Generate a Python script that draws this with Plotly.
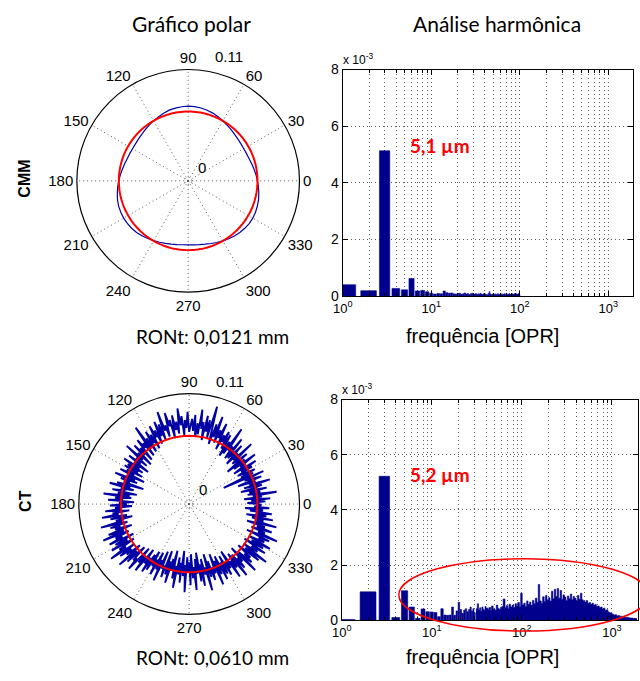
import plotly.graph_objects as go

# ---------------- data ----------------
R_MAX = 0.11  # mm, outer ring of the polar plots

CMM_PROFILE_MM = [
    0.0685, 0.0673, 0.0661, 0.0650, 0.0641, 0.0636, 0.0634, 0.0637, 0.0642, 0.0649, 0.0660, 0.0671,
    0.0686, 0.0699, 0.0712, 0.0722, 0.0731, 0.0736, 0.0738, 0.0735, 0.0729, 0.0723, 0.0710, 0.0697,
    0.0684, 0.0672, 0.0660, 0.0649, 0.0642, 0.0636, 0.0635, 0.0637, 0.0641, 0.0650, 0.0660, 0.0673,
    0.0686, 0.0699, 0.0711, 0.0723, 0.0731, 0.0735, 0.0736, 0.0734, 0.0729, 0.0721, 0.0709, 0.0696,
    0.0683, 0.0670, 0.0658, 0.0648, 0.0640, 0.0634, 0.0632, 0.0635, 0.0640, 0.0648, 0.0659, 0.0672,
    0.0685, 0.0698, 0.0711, 0.0722, 0.0730, 0.0736, 0.0737, 0.0734, 0.0728, 0.0720, 0.0709, 0.0697,
]
CMM_FIT_R_MM = 0.0685

CT_PROFILE_UM = [
    70, 58, 76, 62, 81, 55, 73, 64, 88, 59, 72, 61, 79, 53, 68, 75, 57, 84, 63, 70, 52, 77, 66, 60, 81, 38, 71, 58, 74, 62,
    56, 73, 61, 79, 54, 69, 63, 82, 57, 71, 50, 76, 65, 59, 86, 62, 70, 55, 78, 64, 60, 83, 58, 72, 66, 91, 61, 74, 57, 80,
    64, 82, 70, 77, 61, 88, 72, 80, 66, 93, 71, 84, 63, 78, 101, 68, 86, 74, 90, 65, 83, 76, 95, 70, 81, 67, 89, 73, 85, 78,
    72, 92, 76, 84, 69, 88, 79, 96, 71, 83, 75, 90, 67, 86, 80, 94, 70, 82, 77, 97, 68, 85, 73, 89, 66, 81, 74, 87, 63, 79,
    70, 84, 62, 78, 67, 93, 60, 76, 71, 82, 58, 74, 66, 80, 55, 72, 64, 85, 57, 70, 63, 77, 52, 69, 61, 79, 56, 73, 60, 75,
    54, 71, 62, 77, 50, 68, 59, 80, 56, 73, 63, 69, 48, 75, 61, 82, 57, 70, 65, 78, 53, 72, 60, 86, 58, 74, 66, 81, 55, 70,
    62, 79, 57, 74, 68, 84, 60, 77, 71, 88, 63, 80, 58, 75, 69, 91, 64, 82, 72, 78, 61, 86, 70, 93, 66, 81, 74, 89, 63, 84,
    71, 90, 65, 83, 76, 95, 68, 86, 73, 80, 64, 92, 70, 84, 62, 79, 75, 88, 60, 77, 69, 85, 58, 74, 66, 82, 61, 78, 56, 72,
    64, 80, 55, 73, 62, 84, 52, 70, 66, 78, 50, 74, 60, 82, 57, 69, 48, 76, 63, 85, 54, 71, 59, 79, 47, 72, 61, 88, 53, 68,
    58, 81, 50, 74, 63, 86, 55, 70, 49, 78, 61, 83, 56, 72, 65, 89, 52, 76, 60, 80, 67, 74, 54, 87, 62, 77, 58, 84, 66, 79,
    60, 82, 68, 76, 57, 88, 70, 79, 63, 91, 66, 84, 72, 78, 61, 93, 69, 85, 74, 81, 64, 89, 71, 96, 67, 83, 75, 90, 65, 86,
    72, 92, 68, 84, 77, 88, 63, 95, 74, 81, 66, 87, 71, 79, 60, 90, 69, 76, 64, 85, 58, 78, 67, 83, 61, 74, 56, 80, 65, 72,
]
CT_FIT_R_MM = 0.0680

CMM_HARM_AMP = [
    0.40, 0.19, 5.13, 0.27, 0.22, 0.62, 0.18, 0.20, 0.15, 0.10,
    0.07, 0.09, 0.08, 0.18, 0.12, 0.10, 0.11, 0.08, 0.07, 0.09,
    0.10, 0.06, 0.08, 0.11, 0.07, 0.09, 0.05, 0.08, 0.10, 0.06,
    0.07, 0.09, 0.05, 0.08, 0.06, 0.10, 0.07, 0.05, 0.08, 0.06,
    0.09, 0.07, 0.05, 0.08, 0.12, 0.17, 0.09, 0.06, 0.08, 0.07,
    0.05, 0.08, 0.06, 0.09, 0.05, 0.07, 0.10, 0.06, 0.08, 0.05,
    0.07, 0.06, 0.09, 0.05, 0.08, 0.06, 0.07, 0.10, 0.05, 0.08,
    0.06, 0.09, 0.05, 0.07, 0.08, 0.06, 0.10, 0.05, 0.07, 0.06,
    0.08, 0.05, 0.09, 0.06, 0.07, 0.05, 0.10, 0.06, 0.08, 0.05,
    0.07, 0.09, 0.06, 0.08, 0.05, 0.07, 0.10, 0.06, 0.08, 0.05,
]
CT_HARM_AMP = [
    0.03, 1.03, 5.22, 0.10, 1.07, 0.48, 0.07, 0.41, 0.31, 0.30,
    0.28, 0.13, 0.42, 0.19, 0.18, 0.19, 0.48, 0.18, 0.34, 0.65,
    0.39, 0.25, 0.37, 0.42, 0.31, 0.39, 0.48, 0.34, 0.42, 0.27,
]
CT_DENSE_FREQ = [
    31, 32, 33, 34, 35, 36, 37, 38, 39, 40,
    42, 43, 45, 46, 48, 50, 52, 54, 56, 58,
    60, 62, 65, 67, 70, 72, 75, 78,
    81, 84, 87, 90, 94, 97,
    101, 105, 109, 113, 117, 122, 126,
    131, 136, 141, 147, 152, 158, 164, 170,
    177, 183, 190, 198, 205, 213, 221, 229, 238,
    247, 256, 266, 276, 286, 297, 308, 320,
    332, 345, 358, 371, 385, 400, 415, 430,
    447, 464, 481, 499, 518, 538,
    558, 579, 601, 624, 647, 672,
    697, 724, 751, 779, 809, 839,
    871, 904, 938, 974, 1010, 1048,
    1088, 1129, 1172, 1216, 1262, 1310,
    1359, 1411, 1464, 1519, 1577, 1636,
    1698, 1762, 1829, 1898,
]
CT_DENSE_AMP = [
    0.42, 0.60, 0.38, 0.45, 0.33, 0.48, 0.40, 0.36, 0.50, 0.44,
    0.38, 0.46, 0.35, 0.52, 0.41, 0.37, 0.55, 0.43, 0.39, 0.47,
    0.50, 0.77, 0.45, 0.53, 0.42, 0.58, 0.48, 0.55,
    0.46, 0.60, 0.52, 0.64, 0.49, 0.98,
    0.55, 0.62, 0.50, 0.70, 0.58, 0.66, 0.54,
    0.72, 0.60, 0.80, 0.65, 1.30, 0.70, 0.62, 0.85,
    0.68, 0.90, 0.74, 0.82, 0.70, 1.05, 0.78, 1.12, 0.86,
    1.15, 0.80, 1.08, 0.76, 0.92, 0.84, 0.72, 0.88,
    0.78, 0.95, 0.74, 0.86, 0.80, 0.70, 0.90, 0.76,
    0.98, 0.74, 0.70, 0.66, 0.72, 0.62,
    0.64, 0.58, 0.62, 0.55, 0.57, 0.50,
    0.52, 0.46, 0.48, 0.41, 0.44, 0.36,
    0.38, 0.30, 0.27, 0.25, 0.22, 0.19,
    0.20, 0.16, 0.17, 0.14, 0.15, 0.12,
    0.12, 0.10, 0.11, 0.09, 0.08, 0.08,
    0.07, 0.07, 0.06, 0.05,
]

ANGLE_TICKS = [0, 30, 60, 90, 120, 150, 180, 210, 240, 270, 300, 330]
X_DECADES = [1, 10, 100, 1000]
X_DECADE_TEXT = ["10<sup>0</sup>", "10<sup>1</sup>", "10<sup>2</sup>", "10<sup>3</sup>"]
X_MINOR = [2, 3, 4, 5, 6, 7, 8, 9, 20, 30, 40, 50, 60, 70, 80, 90,
           200, 300, 400, 500, 600, 700, 800, 900, 2000]
Y_TICKS = [0, 2, 4, 6, 8]
COL_TITLES = ["Gráfico polar", "Análise harmônica"]
ROW_LABELS = ["CMM", "CT"]
RONT_TEXT = ["RONt: 0,0121 mm", "RONt: 0,0610 mm"]
PEAK_TEXT = ["5,1 µm", "5,2 µm"]
XLABEL = "frequência [OPR]"

BLUE = "rgb(0,0,165)"
BAR = "rgb(0,0,140)"
RED = "rgb(255,0,0)"
GRID = "rgb(90,90,90)"
GRIDDASH = "1px,3px"
W, H = 640, 681


def closed_polar(values, scale=1.0):
    n = len(values)
    step = 360.0 / n
    th = [i * step for i in range(n)] + [360.0]
    r = [v * scale for v in values] + [values[0] * scale]
    return th, r


def bar_polys(amps, width=0.8):
    xs, ys = [], []
    for i, a in enumerate(amps):
        k = i + 1
        xs += [k - width / 2, k - width / 2, k + width / 2, k + width / 2, None]
        ys += [0, a, a, 0, None]
    return xs, ys


def px_x(x):
    return x / W


def px_y(y):
    return 1 - y / H


fig = go.Figure()

circle_th = list(range(0, 361, 2))
for sub, prof, scale, fit, lw in [("polar", CMM_PROFILE_MM, 1.0, CMM_FIT_R_MM, 1.2),
                                  ("polar2", CT_PROFILE_UM, 0.001, CT_FIT_R_MM, 1.9)]:
    th, r = closed_polar(prof, scale)
    fig.add_trace(go.Scatterpolar(theta=th, r=r, mode="lines", subplot=sub,
                                  line=dict(color=BLUE, width=lw), showlegend=False,
                                  hoverinfo="skip"))
    fig.add_trace(go.Scatterpolar(theta=circle_th, r=[fit] * len(circle_th), mode="lines",
                                  subplot=sub, line=dict(color=RED, width=2),
                                  showlegend=False, hoverinfo="skip"))

bx, by = bar_polys(CMM_HARM_AMP)
fig.add_trace(go.Scatter(x=bx, y=by, mode="lines", fill="toself", fillcolor=BAR,
                         line=dict(color=BAR, width=0.6), xaxis="x", yaxis="y",
                         showlegend=False, hoverinfo="skip"))
bx, by = bar_polys(CT_HARM_AMP)
fig.add_trace(go.Scatter(x=bx, y=by, mode="lines", fill="toself", fillcolor=BAR,
                         line=dict(color=BAR, width=0.6), xaxis="x2", yaxis="y2",
                         showlegend=False, hoverinfo="skip"))
fig.add_trace(go.Scatter(x=CT_DENSE_FREQ, y=CT_DENSE_AMP, mode="lines", fill="tozeroy",
                         fillcolor=BAR, line=dict(color=BAR, width=0.6, shape="hv"),
                         xaxis="x2", yaxis="y2", showlegend=False, hoverinfo="skip"))

TICKFONT = dict(family="Liberation Sans, Arial, sans-serif", size=14, color="black")


def polar_layout(xd, yd):
    return dict(
        domain=dict(x=xd, y=yd),
        bgcolor="white",
        radialaxis=dict(range=[0, R_MAX], showticklabels=False, showline=False, ticks="",
                        tickmode="array", tickvals=[0.0035], showgrid=True,
                        gridcolor=GRID, griddash=GRIDDASH, gridwidth=1),
        angularaxis=dict(direction="counterclockwise", rotation=0, tickmode="array",
                         tickvals=ANGLE_TICKS, ticktext=[str(a) for a in ANGLE_TICKS],
                         tickfont=dict(family="Liberation Sans, Arial, sans-serif", size=15,
                                       color="black"),
                         showline=True, linecolor="black", linewidth=1.2, ticks="",
                         showgrid=True, gridcolor=GRID, griddash=GRIDDASH, gridwidth=1),
    )


def xaxis_layout(xd, rng, anchor):
    return dict(domain=xd, type="log", range=rng, anchor=anchor,
                tickmode="array", tickvals=X_DECADES, ticktext=X_DECADE_TEXT,
                tickfont=dict(family="Liberation Sans, Arial, sans-serif", size=13, color="black"),
                ticks="inside", ticklen=5, tickcolor="black",
                minor=dict(tickmode="array", tickvals=X_MINOR, ticks="inside", ticklen=3,
                           tickcolor="black", showgrid=True, gridcolor=GRID,
                           griddash=GRIDDASH, gridwidth=1),
                showline=True, linecolor="black", linewidth=1, mirror="ticks",
                showgrid=True, gridcolor=GRID, griddash=GRIDDASH, gridwidth=1, zeroline=False)


def yaxis_layout(yd, anchor):
    return dict(domain=yd, range=[0, 8], anchor=anchor, tickmode="array", tickvals=Y_TICKS,
                tickfont=TICKFONT, ticks="inside", ticklen=5, tickcolor="black",
                showline=True, linecolor="black", linewidth=1, mirror="ticks",
                showgrid=True, gridcolor=GRID, griddash=GRIDDASH, gridwidth=1, zeroline=False)


fig.update_layout(
    width=W, height=H, autosize=False,
    margin=dict(l=0, r=0, t=0, b=0),
    paper_bgcolor="white", plot_bgcolor="white",
    polar=polar_layout([px_x(67), px_x(295)], [px_y(291), px_y(63)]),
    polar2=polar_layout([px_x(69), px_x(295)], [px_y(621), px_y(395)]),
    xaxis=xaxis_layout([px_x(338), px_x(633)], [0, 3.28], "y"),
    yaxis=yaxis_layout([px_y(295), px_y(63)], "x"),
    xaxis2=xaxis_layout([px_x(337), px_x(638)], [0, 3.29], "y2"),
    yaxis2=yaxis_layout([px_y(627), px_y(401)], "x2"),
    showlegend=False,
)

CAL = "Lato, 'Open Sans', sans-serif"
HEL = "Liberation Sans, Arial, sans-serif"
ann = []


def add_text(x, y, text, size, family, color="black", bold=False, angle=0, xanchor="center"):
    ann.append(dict(x=px_x(x), y=px_y(y), xref="paper", yref="paper", text=text,
                    showarrow=False, xanchor=xanchor, yanchor="middle", textangle=angle,
                    font=dict(size=size, family=family, color=color,
                              weight="bold" if bold else "normal")))


add_text(184, 16, COL_TITLES[0], 21, CAL)
add_text(495, 16, COL_TITLES[1], 21, CAL)
add_text(15, 175, ROW_LABELS[0], 16, HEL, bold=True, angle=-90)
add_text(15, 505, ROW_LABELS[1], 16, HEL, bold=True, angle=-90)
add_text(206, 336, RONT_TEXT[0], 19, CAL)
add_text(206, 665, RONT_TEXT[1], 19, CAL)
add_text(480, 336, XLABEL, 20, HEL)
add_text(480, 665, XLABEL, 20, HEL)
add_text(437, 141, PEAK_TEXT[0], 19, CAL, color=RED, bold=True)
add_text(437, 478, PEAK_TEXT[1], 19, CAL, color=RED, bold=True)
add_text(222, 50, "0.11", 15, HEL)
add_text(195, 163, "0", 15, HEL)
add_text(223, 382, "0.11", 15, HEL)
add_text(196, 493, "0", 15, HEL)
add_text(336, 52, "x 10<sup>-3</sup>", 12, HEL, xanchor="left")
add_text(335, 390, "x 10<sup>-3</sup>", 12, HEL, xanchor="left")

fig.update_layout(annotations=ann)

fig.add_shape(type="circle", xref="paper", yref="paper",
              x0=px_x(395), x1=px_x(649), y0=px_y(638), y1=px_y(564),
              line=dict(color=RED, width=1.5), layer="above")

fig.write_html("out.html")
